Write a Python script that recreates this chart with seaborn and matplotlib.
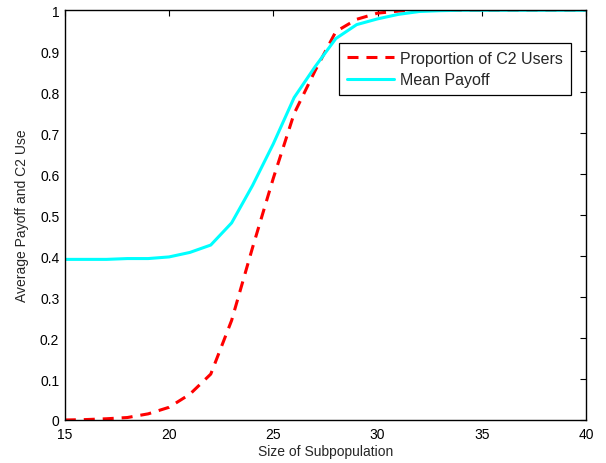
import numpy as np
import pandas as pd
import matplotlib
matplotlib.use("Agg")
import matplotlib.pyplot as plt
import seaborn as sns

sizes = list(range(15, 41))
prop_c2 = [0.0, 0.001, 0.003, 0.006, 0.015, 0.031, 0.063, 0.112, 0.243, 0.42,
           0.59, 0.748, 0.852, 0.948, 0.978, 0.993, 0.998, 1.0, 1.0, 1.0,
           1.0, 1.0, 1.0, 1.0, 1.0, 1.0]
mean_payoff = [0.392, 0.392, 0.392, 0.394, 0.394, 0.398, 0.409, 0.427, 0.481, 0.572,
               0.674, 0.787, 0.862, 0.931, 0.965, 0.979, 0.99, 0.997, 0.999, 1.0,
               1.0, 1.0, 1.0, 1.0, 1.0, 1.0]
ytick_labels = ["0", "0.1", "0.2", "0.3", "0.4", "0.5", "0.6", "0.7", "0.8", "0.9", "1"]

df = pd.DataFrame({"size": sizes, "prop": prop_c2, "payoff": mean_payoff})

sns.set_theme(style="white")
plt.rcParams["font.family"] = ["Liberation Sans", "DejaVu Sans"]

fig = plt.figure(figsize=(6.06, 4.64), dpi=100)
ax = fig.add_axes([0.107, 0.0927, 0.86, 0.883])

sns.lineplot(data=df, x="size", y="prop", ax=ax, color="#ff0000", lw=2.2,
             label="Proportion of C2 Users")
ax.lines[-1].set_dashes([3.6, 2.6])
sns.lineplot(data=df, x="size", y="payoff", ax=ax, color="#00ffff", lw=2.2,
             label="Mean Payoff")

ax.set_xlim(15, 40)
ax.set_ylim(0, 1)
ax.set_xticks([15, 20, 25, 30, 35, 40])
ax.set_yticks(np.round(np.arange(0, 1.01, 0.1), 1))
ax.set_yticklabels(ytick_labels)
ax.tick_params(direction="in", length=4, width=0.8, top=True, right=True,
               labelsize=10, colors="black")
ax.tick_params(axis="x", pad=5)
ax.tick_params(axis="y", pad=4)
for s in ax.spines.values():
    s.set_color("black")
    s.set_linewidth(1.0)
ax.set_xlabel("Size of Subpopulation", fontsize=10, labelpad=2)
ax.set_ylabel("Average Payoff and C2 Use", fontsize=10, labelpad=8)

leg = ax.legend(loc="upper right", bbox_to_anchor=(0.971, 0.92), borderaxespad=0,
                fontsize=11.5, frameon=True, fancybox=False, edgecolor="black",
                framealpha=1, handlelength=2.9, handletextpad=0.4,
                borderpad=0.5, labelspacing=0.4)
leg.get_frame().set_linewidth(0.9)

fig.savefig("out.png", dpi=100)
